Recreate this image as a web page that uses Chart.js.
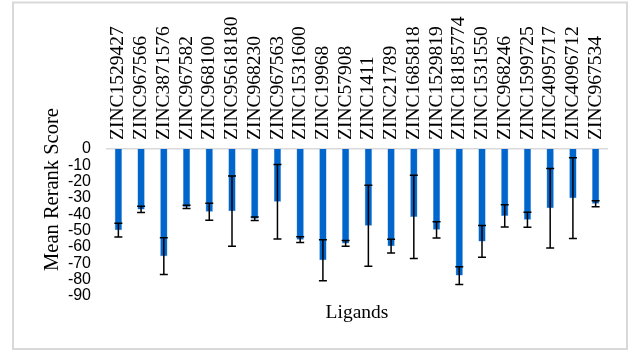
<!DOCTYPE html>
<html>
<head>
<meta charset="utf-8">
<script src="https://cdn.jsdelivr.net/npm/chart.js@4/dist/chart.umd.min.js"></script>
<style>
html,body{margin:0;padding:0;background:#fff;}
#wrap{width:629px;height:351px;position:relative;}
</style>
</head>
<body>
<div id="wrap"><canvas id="c" width="629" height="351"></canvas></div>
<script>
const ligands = ["ZINC1529427","ZINC967566","ZINC3871576","ZINC967582","ZINC968100","ZINC95618180","ZINC968230","ZINC967563","ZINC1531600","ZINC19968","ZINC57908","ZINC1411","ZINC21789","ZINC1685818","ZINC1529819","ZINC18185774","ZINC1531550","ZINC968246","ZINC1599725","ZINC4095717","ZINC4096712","ZINC967534"];
const meanScores = [-49.7,-37,-65.6,-35.5,-38.4,-38.1,-42.7,-32.3,-55.5,-68.1,-57.8,-47,-59.5,-41.6,-49.5,-77.5,-56.6,-41,-43.3,-36.3,-30.1,-33.5];
const errors = [4.2,1.9,11.3,1.0,5.2,21.5,1.0,22.8,1.8,12.6,1.8,24.8,4.2,25.5,5.0,5.4,9.7,6.8,4.6,24.3,24.7,1.8];
const yTitle = "Mean Rerank Score";
const xTitle = "Ligands";

const decor = {
  id: 'decor',
  beforeDraw(chart) {
    const ctx = chart.ctx;
    ctx.save();
    ctx.fillStyle = '#fff';
    ctx.fillRect(0, 0, chart.width, chart.height);
    ctx.strokeStyle = '#d9d9d9';
    ctx.lineWidth = 2;
    ctx.strokeRect(13, 2.5, 614, 346.5);
    ctx.restore();
  },
  afterDatasetsDraw(chart) {
    const ctx = chart.ctx;
    const meta = chart.getDatasetMeta(0);
    const ys = chart.scales.y;
    ctx.save();
    ctx.strokeStyle = '#000';
    ctx.lineWidth = 1.5;
    meta.data.forEach((bar, i) => {
      const x = bar.x;
      const y1 = ys.getPixelForValue(meanScores[i] + errors[i]);
      const y2 = ys.getPixelForValue(meanScores[i] - errors[i]);
      ctx.beginPath();
      ctx.moveTo(x, y1); ctx.lineTo(x, y2);
      ctx.moveTo(x - 4, y1); ctx.lineTo(x + 4, y1);
      ctx.moveTo(x - 4, y2); ctx.lineTo(x + 4, y2);
      ctx.stroke();
    });
    ctx.restore();
  },
  afterDraw(chart) {
    const ctx = chart.ctx;
    const ca = chart.chartArea;
    ctx.save();
    ctx.fillStyle = '#000';
    ctx.font = '19.5px "Liberation Serif", "Times New Roman", serif';
    ctx.textAlign = 'center';
    ctx.textBaseline = 'alphabetic';
    ctx.fillText(xTitle, (ca.left + ca.right) / 2, 318);
    ctx.translate(58, 189.5);
    ctx.rotate(-Math.PI / 2);
    ctx.font = '20.5px "Liberation Serif", "Times New Roman", serif';
    ctx.fillText(yTitle, 0, 0);
    ctx.restore();
  }
};

new Chart(document.getElementById('c'), {
  type: 'bar',
  data: {
    labels: ligands,
    datasets: [{
      data: meanScores,
      backgroundColor: '#0066cc',
      borderColor: 'rgba(70,140,215,0.9)',
      borderWidth: 0.5,
      barPercentage: 0.32,
      categoryPercentage: 1.0
    }]
  },
  options: {
    responsive: false,
    animation: false,
    devicePixelRatio: 1,
    layout: { padding: { left: 0, right: 22, top: 0, bottom: 55 } },
    plugins: { legend: { display: false }, tooltip: { enabled: false }, title: { display: false } },
    scales: {
      x: {
        position: 'top',
        grid: { display: false, drawTicks: false },
        border: { display: true, color: '#d9d9d9', width: 1.5 },
        ticks: {
          autoSkip: false, minRotation: 90, maxRotation: 90, padding: 9,
          color: '#000',
          font: { family: '"Liberation Serif", "Times New Roman", serif', size: 19.5, lineHeight: 0 }
        },
        afterFit(scale) { scale.height = 149; }
      },
      y: {
        min: -90, max: 0,
        grid: { display: false, drawTicks: false },
        border: { display: false },
        ticks: {
          stepSize: 10, padding: 16, color: '#000', autoSkip: false,
          font: { family: '"Liberation Sans", Arial, sans-serif', size: 16 }
        },
        afterFit(scale) { scale.width = 107; }
      }
    }
  },
  plugins: [decor]
});
</script>
</body>
</html>
